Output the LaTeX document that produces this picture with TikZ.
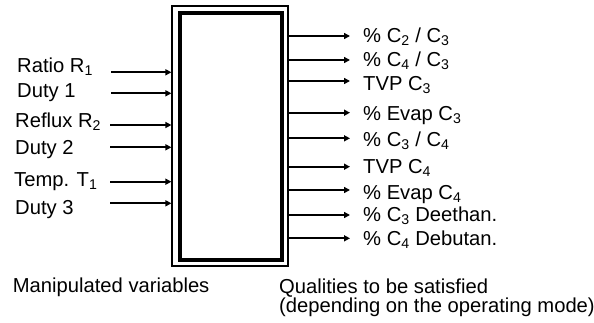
\documentclass[tikz,border=0pt]{standalone}
\usepackage{fontspec}
\setmainfont{Liberation Sans}
\usetikzlibrary{arrows.meta}

\tikzset{
  lbl/.style={anchor=base west, inner sep=0pt, font=\fontsize{20.2}{24}\selectfont},
  arr/.style={line width=2.1pt, -{Triangle[length=6pt,width=6pt]}},
  outerbox/.style={draw, line width=1.2pt, minimum width=116pt, minimum height=260pt, inner sep=0pt},
  innerbox/.style={draw, line width=3.8pt, minimum width=102pt, minimum height=247pt, inner sep=0pt}
}

\begin{document}
\begin{tikzpicture}[x=1pt,y=-1pt]
  \useasboundingbox (0,0) rectangle (594,322);

  % double-framed process block
  \node[outerbox] (box) at (230,136) {};
  \node[innerbox] (core) at (231,136.5) {};

  % manipulated variables (inputs)
  \node[lbl] (in1) at (17,72)  {Ratio R\textsubscript{1}};
  \node[lbl] (in2) at (17,97)  {Duty 1};
  \node[lbl] (in3) at (15,127) {Reflux R\textsubscript{2}};
  \node[lbl] (in4) at (15,154) {Duty 2};
  \node[lbl] (in5) at (14,186) {Temp. T\textsubscript{1}};
  \node[lbl] (in6) at (15,214) {Duty 3};

  \coordinate (a1) at (111,72.3);
  \coordinate (a2) at (111,93.3);
  \coordinate (a3) at (110,125);
  \coordinate (a4) at (110,147.3);
  \coordinate (a5) at (110,181.7);
  \coordinate (a6) at (110,203.3);
  \foreach \k in {1,...,6}
    \draw[arr] (a\k) -- (a\k -| box.west);

  % qualities (outputs)
  \node[lbl] (out1) at (363,42)    {\% C\textsubscript{2} / C\textsubscript{3}};
  \node[lbl] (out2) at (363,66.5)  {\% C\textsubscript{4} / C\textsubscript{3}};
  \node[lbl] (out3) at (363,90)    {TVP C\textsubscript{3}};
  \node[lbl] (out4) at (363,120.5) {\% Evap C\textsubscript{3}};
  \node[lbl] (out5) at (363,146)   {\% C\textsubscript{3} / C\textsubscript{4}};
  \node[lbl] (out6) at (363,173)   {TVP C\textsubscript{4}};
  \node[lbl] (out7) at (363,199)   {\% Evap C\textsubscript{4}};
  \node[lbl] (out8) at (363,221.5) {\% C\textsubscript{3} Deethan.};
  \node[lbl] (out9) at (363,245)   {\% C\textsubscript{4} Debutan.};

  \coordinate (b1) at (350,36);
  \coordinate (b2) at (350,60);
  \coordinate (b3) at (350,81);
  \coordinate (b4) at (350,112.7);
  \coordinate (b5) at (350,138.3);
  \coordinate (b6) at (350,166.7);
  \coordinate (b7) at (350,190);
  \coordinate (b8) at (350,215);
  \coordinate (b9) at (350,238.3);
  \foreach \k in {1,...,9}
    \draw[arr] (b\k -| box.east) -- (b\k);

  % captions
  \node[lbl] (capin) at (12.7,292) {Manipulated variables};
  \node[lbl, anchor=north west, align=left, font=\fontsize{20.2}{18}\selectfont]
    (capout) at (279,278.3) {Qualities to be satisfied\\(depending on the operating mode)};
\end{tikzpicture}
\end{document}
